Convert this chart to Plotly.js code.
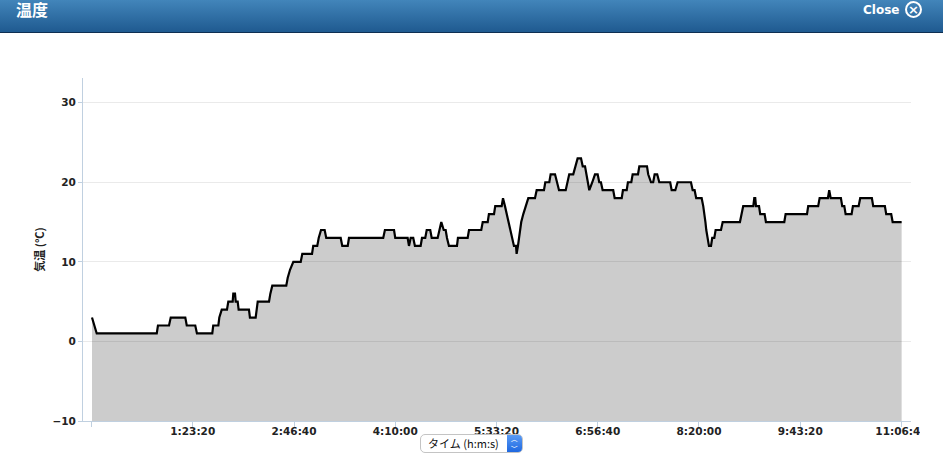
<!DOCTYPE html>
<html>
<head>
<meta charset="utf-8">
<script src="https://cdn.plot.ly/plotly-3.0.1.min.js"></script>
<style>
html,body{margin:0;padding:0;background:#fff;width:943px;height:466px;overflow:hidden;font-family:"DejaVu Sans",sans-serif}
#chart{position:absolute;left:0;top:0;width:943px;height:466px}
#head{position:absolute;left:0;top:0;width:943px;height:32px;background:linear-gradient(#4285ba,#1f5a90);border-bottom:1px solid #0e2f52}
#ttl{position:absolute;left:16px;top:0;color:#fff;font:bold 16px "Noto Sans CJK JP",sans-serif;line-height:18px}
#cls{position:absolute;left:863px;top:1px;color:#fff;font:bold 12px "DejaVu Sans",sans-serif;line-height:18px}
#ico{position:absolute;left:905px;top:1px;width:13px;height:13px;border:2px solid #fff;border-radius:50%;color:#fff;font:bold 13px/13px "DejaVu Sans",sans-serif;text-align:center}
#clip{position:absolute;left:920px;top:424px;width:23px;height:22px;background:#fff}
#sel{position:absolute;left:420px;top:434px;width:101px;height:17px;border:1px solid #c4c4c4;border-radius:5px;background:#fff;overflow:hidden;font:11px "Noto Sans CJK JP",sans-serif;line-height:17px;color:#111}
#sel span{position:absolute;left:7px;top:0;white-space:nowrap}
#arr{position:absolute;right:0;top:0;width:15px;height:17px;background:linear-gradient(#5a9bf5,#1f68e0);color:#fff;font:bold 7px/8px "DejaVu Sans",sans-serif;text-align:center;padding-top:1px;box-sizing:border-box}
</style>
</head>
<body>
<div id="chart"></div>
<div id="head"><div id="ttl">温度</div><div id="cls">Close</div><div id="ico">×</div></div>
<div id="clip"></div>
<div id="sel"><span>タイム (h:m:s)</span><div id="arr">︿<br>﹀</div></div>
<script>
// elapsed time in minutes
var minutes = [0.4,2.1,4.3,53.7,54.7,63.8,65.2,77.2,78.4,85.4,86.8,99.4,100.2,104.4,105.2,107.2,111.5,112.6,116.2,116.7,118.1,118.7,120.3,121.1,129.6,130.4,135.1,136.8,146.1,147.2,148.8,160.3,161.5,163.4,166.1,172.2,173.5,181.5,182.5,185.8,187.0,188.9,191.9,193.2,205.1,206.4,210.9,211.9,240.1,241.5,249.0,250.0,260.2,261.3,262.7,264.8,266.2,270.9,272.0,274.7,275.9,278.8,280.0,284.9,286.2,287.9,289.9,291.5,292.6,294.2,300.8,301.6,309.6,310.7,320.8,322.0,326.1,327.1,331.3,332.3,337.6,338.7,340.3,341.7,343.0,344.4,346.1,347.7,349.4,349.9,351.0,352.7,353.7,355.4,357.6,359.5,365.0,366.4,372.4,373.5,376.8,377.9,381.5,382.9,384.8,390.3,391.6,393.2,396.5,398.2,400.1,402.9,404.3,406.2,407.2,408.6,409.7,412.2,414.4,416.6,417.9,419.3,420.7,429.4,430.6,436.4,437.4,440.5,441.5,444.3,445.4,449.8,450.9,457.2,458.2,460.5,462.3,463.5,465.6,467.3,476.3,477.5,480.5,482.4,493.4,494.8,496.4,497.7,502.2,503.5,504.7,505.3,506.0,507.1,508.2,509.9,510.9,512.6,513.7,518.1,519.5,533.7,534.8,536.4,544.7,545.5,546.3,546.9,549.4,550.4,554.0,555.1,570.2,571.3,588.9,589.9,598.1,599.3,606.1,607.2,608.4,616.8,617.9,619.6,620.7,625.6,626.7,631.4,632.7,642.3,643.4,653.0,654.1,658.2,659.4,666.8];
// temperature in degrees C
var temperature = [3,2,1,1,2,2,3,3,2,2,1,1,2,2,3,4,4,5,5,6,6,5,5,4,4,3,3,5,5,6,7,7,8,9,10,10,11,11,12,12,13,14,14,13,13,12,12,13,13,14,14,13,13,12,13,13,12,12,13,13,14,14,13,13,14,15,14,14,13,12,12,13,13,14,14,15,15,16,16,17,17,18,17,16,15,14,13,12,12,11,12,14,15,16,17,18,18,19,19,20,20,21,21,20,19,19,20,21,21,22,23,23,22,22,21,20,19,20,21,21,20,20,19,19,18,18,19,19,20,20,21,21,22,22,21,20,20,21,21,20,20,19,19,20,20,19,19,18,18,17,16,15,14,13,12,12,13,13,14,14,15,15,16,17,17,18,18,17,17,16,16,15,15,16,16,17,17,18,18,19,18,18,17,17,16,16,17,17,18,18,17,17,16,16,15,15];
var baseX = [0.4,666.8];
var baseY = [-10,-10];
var xTickVals = [0,83.333,166.667,250,333.333,416.667,500,583.333,666.667];
var xTickText = ["","1:23:20","2:46:40","4:10:00","5:33:20","6:56:40","8:20:00","9:43:20","11:06:40"];
var yTitle = "気温 (°C)";
var axisColor = "#c0d0e0";
var tickFont = {family:"DejaVu Sans, sans-serif",size:10.5,color:"#222",weight:700};

Plotly.newPlot("chart",[
 {x:baseX,y:baseY,mode:"lines",line:{width:0},hoverinfo:"skip",showlegend:false},
 {x:minutes,y:temperature,mode:"lines",line:{color:"#000",width:2.2,shape:"linear"},fill:"tonexty",fillcolor:"rgba(0,0,0,0.2)",showlegend:false}
],{
 width:943,height:466,
 margin:{l:83,r:32,t:78,b:45,pad:0},
 paper_bgcolor:"#fff",plot_bgcolor:"#fff",
 showlegend:false,
 xaxis:{range:[-7,674.5],tickmode:"array",tickvals:xTickVals,ticktext:xTickText,showgrid:false,zeroline:false,
  showline:true,linecolor:axisColor,linewidth:1,ticks:"outside",ticklen:5,tickcolor:axisColor,tickfont:tickFont,tickangle:0,ticklabelstandoff:-5},
 yaxis:{range:[-10,33.1],tick0:-10,dtick:10,showgrid:true,gridcolor:"#eaeaea",gridwidth:1,zeroline:false,
  showline:true,linecolor:axisColor,linewidth:1,ticks:"outside",ticklen:4,tickcolor:axisColor,tickfont:tickFont,
  title:{text:yTitle,standoff:5,font:{family:"Noto Sans CJK JP, sans-serif",size:11,color:"#222",weight:700}}}
},{displayModeBar:false,staticPlot:true});
</script>
</body>
</html>
